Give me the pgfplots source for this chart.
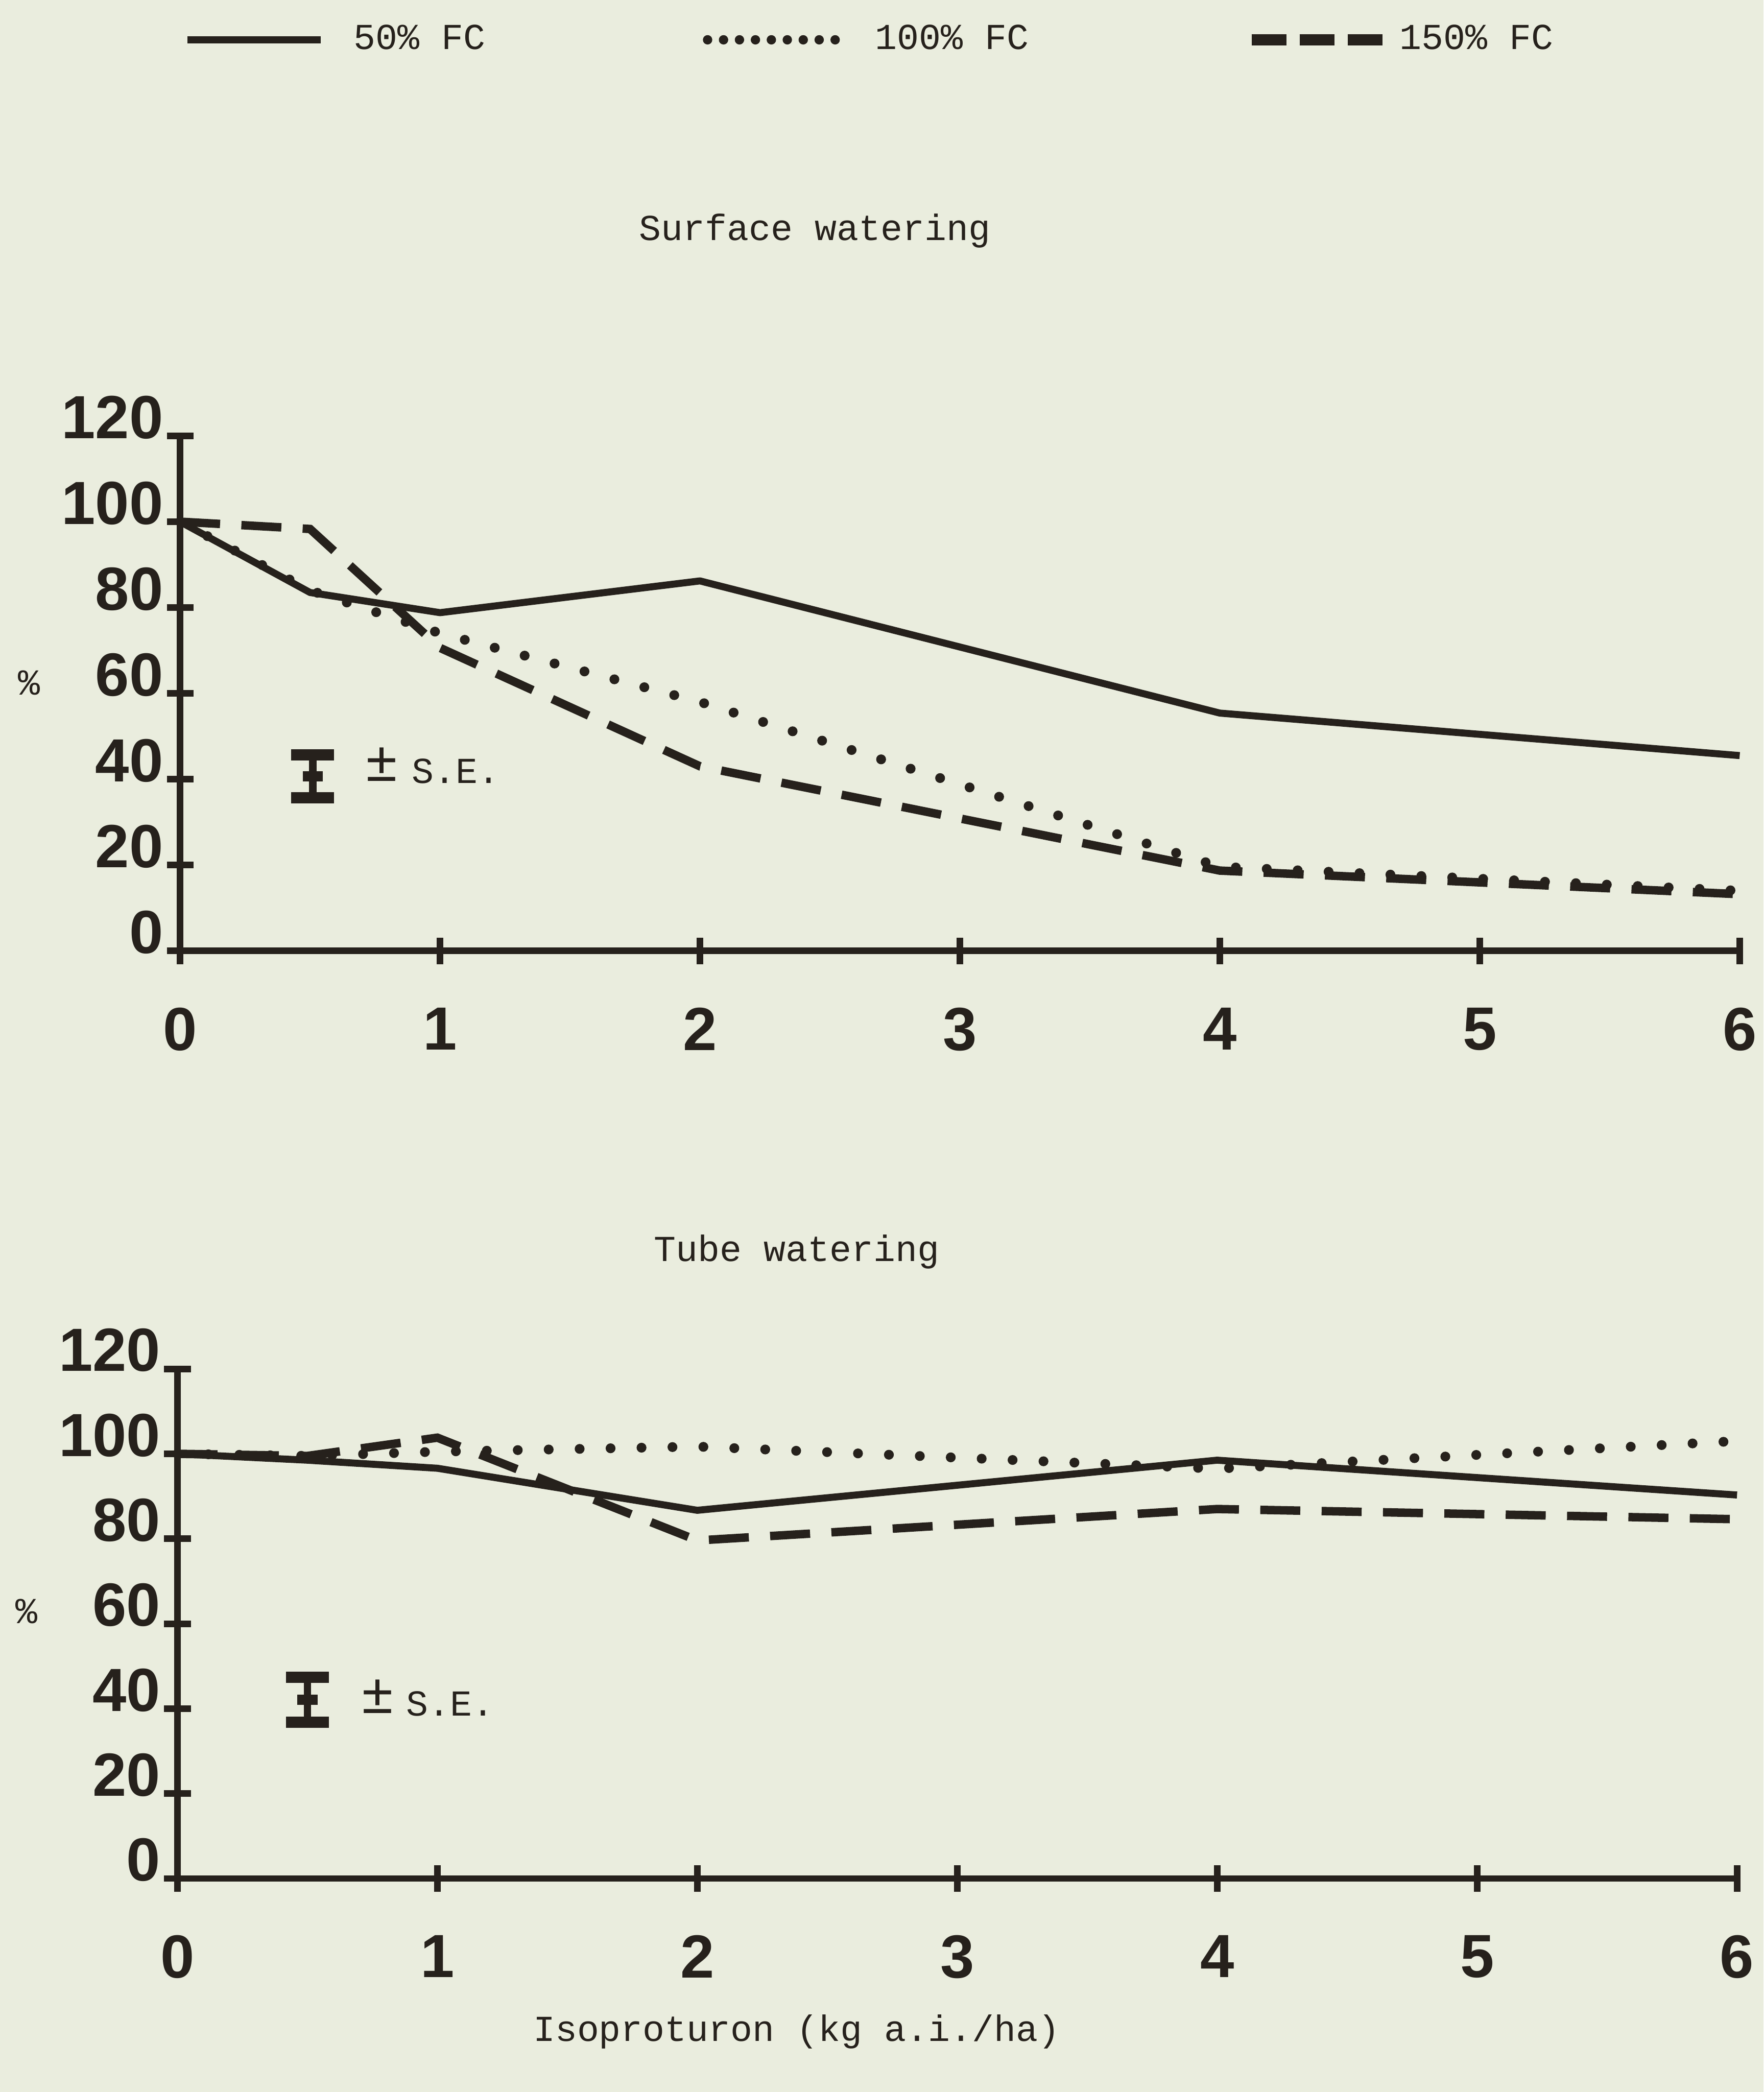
\documentclass[border=0pt]{standalone}
\usepackage{fontspec}
\setmainfont{Liberation Mono}
\newfontfamily\tickfont{Liberation Sans}
\usepackage{pgfplots}
\pgfplotsset{compat=1.18}
\definecolor{paper}{RGB}{234,237,222}
\definecolor{ink}{RGB}{38,33,28}
\tikzset{pmtext/.style={text=ink, inner sep=0pt, font=\fontsize{12}{12}\selectfont}}

\pgfplotsset{
  watering/.style={
    scale only axis, width=11.69cm,
    xmin=0, xmax=6, ymin=0, ymax=120,
    axis x line*=bottom, axis y line*=left,
    axis line style={line width=1.4pt, ink},
    xtick={0,...,6}, ytick={0,20,...,120},
    tick align=center, major tick length=2mm,
    tick style={line width=1.4pt, ink},
    /pgf/number format/assume math mode=true,
    tick label style={font=\tickfont\bfseries\fontsize{13}{13}\selectfont, text=ink},
    yticklabel style={anchor=south east, inner sep=0pt, xshift=-0.2mm, yshift=-0.3mm},
    xticklabel style={anchor=north, inner sep=0pt, yshift=-3.2mm},
    clip=false,
  },
  longlegend/.style={legend image code/.code={\draw[##1] (0cm,0cm) -- (1cm,0cm); \path (1.15cm,0cm);}},
  shortlegend/.style={legend image code/.code={\draw[##1] (0cm,0cm) -- (1cm,0cm);}},
  solidfc/.style={ink, line width=1.5pt, line join=round},
  dotfc/.style={ink, line width=2.1pt, line cap=round, dash pattern=on 0pt off 6.6pt},
  dashfc/.style={ink, line width=1.8pt, dash pattern=on 3mm off 1.6mm},
  sebar/.style={ink, line width=1.6pt, mark=-, mark options={line width=2.2pt, mark size=0.75mm},
    forget plot,
    error bars/.cd, y dir=both, y explicit,
    error bar style={line width=1.6pt, ink},
    error mark options={rotate=90, line width=2.4pt, mark size=1.6mm, ink}},
}

\begin{document}
\fontsize{7.8}{9.4}\selectfont
\begin{tikzpicture}
\useasboundingbox (0,0) rectangle (13.22,15.68);
\fill[paper] (0,0) rectangle (13.22,15.68);

% Surface watering
\begin{axis}[watering, height=3.86cm, at={(1.35cm,8.553cm)}, anchor=south west,
  legend style={at={(0.4445,1.769)}, anchor=center, draw=none, fill=none,
    legend columns=3, text=ink,
    /tikz/every even column/.append style={column sep=15.6mm}}]
\addlegendimage{longlegend, solidfc}
\addlegendentry{50\% FC}
\addlegendimage{longlegend, ink, line width=2pt, line cap=round, dash pattern=on 0pt off 3.4pt}
\addlegendentry{100\% FC}
\addlegendimage{shortlegend, ink, line width=2.3pt, dash pattern=on 2.6mm off 1mm}
\addlegendentry{150\% FC}

\addplot[solidfc, forget plot] coordinates {(0,100) (0.5,83.5) (1,78.8) (2,86.2) (4,55.4) (6,45.5)};
\addplot[dotfc, forget plot] coordinates {(0,100) (0.5,84) (1,74) (2,58) (4,19.6) (6,14)};
\addplot[dashfc, forget plot] coordinates {(0,100) (0.5,98.3) (1,70.6) (2,43) (4,18.7) (6,13.2)};

\addplot[sebar] coordinates {(0.51,40.7) +- (0,5.0)};
\node[pmtext] at (axis cs:0.775,43.4) {±};
\node[text=ink] at (axis cs:1.06,41.9) {S.E.};
\node[text=ink] at (rel axis cs:-0.0967,0.52) {\%};
\node[text=ink] at (rel axis cs:0.407,1.398) {Surface watering};
\end{axis}

% Tube watering
\begin{axis}[watering, height=3.82cm, at={(1.33cm,1.60cm)}, anchor=south west]
\addplot[solidfc] coordinates {(0,100) (0.5,98.5) (1,96.6) (2,86.7) (4,98.5) (6,90.3)};
\addplot[dotfc] coordinates {(0,100) (0.5,99.5) (1,100.5) (2,101.7) (4,96.5) (6,103)};
\addplot[dashfc] coordinates {(0,100) (0.5,99.5) (1,103.8) (2,79.6) (4,87) (6,84.6)};

\addplot[sebar] coordinates {(0.5,42.1) +- (0,5.3)};
\node[pmtext] at (axis cs:0.77,42.9) {±};
\node[text=ink] at (axis cs:1.05,41.2) {S.E.};
\node[text=ink] at (rel axis cs:-0.0967,0.524) {\%};
\node[text=ink] at (rel axis cs:0.397,1.230) {Tube watering};
\node[text=ink] at (rel axis cs:0.397,-0.301) {Isoproturon (kg a.i./ha)};
\end{axis}
\end{tikzpicture}
\end{document}
